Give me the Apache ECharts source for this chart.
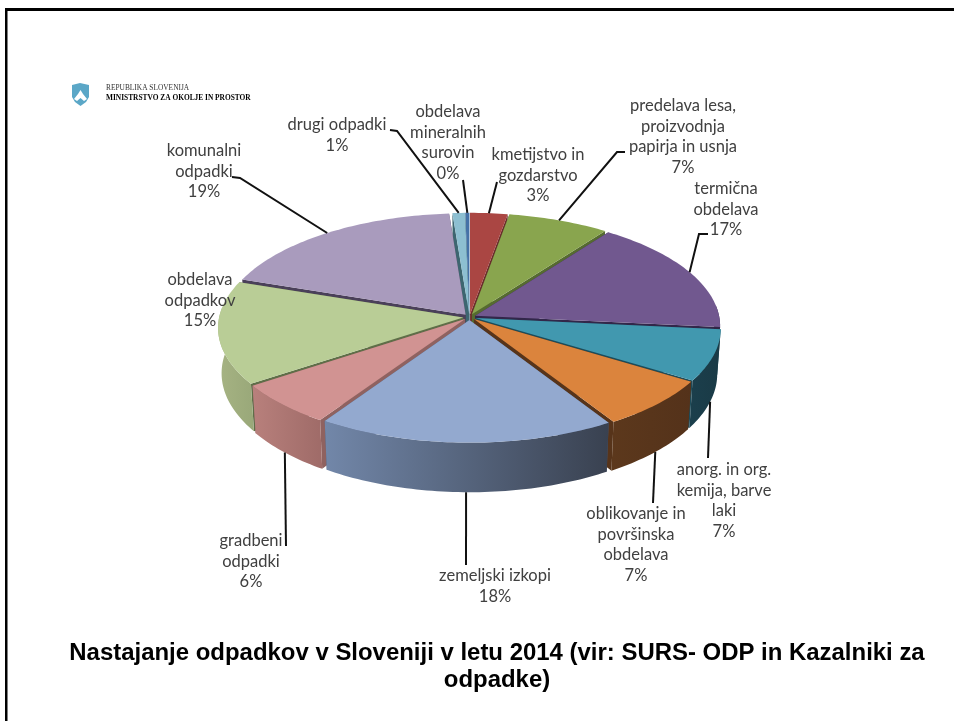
<!DOCTYPE html>
<html>
<head>
<meta charset="utf-8">
<style>
  html, body { margin: 0; padding: 0; background: #fff; }
  #chart { width: 954px; height: 721px; }
</style>
<script src="https://cdn.jsdelivr.net/npm/echarts@6/dist/echarts.min.js"></script>
</head>
<body>
<div id="chart"></div>
<script>
// clockwise from 12 o'clock, same order as the picture
const categories = [
  'kmetijstvo in\ngozdarstvo',
  'predelava lesa,\nproizvodnja\npapirja in usnja',
  'termična\nobdelava',
  'anorg. in org.\nkemija, barve\nlaki',
  'oblikovanje in\npovršinska\nobdelava',
  'zemeljski izkopi',
  'gradbeni\nodpadki',
  'obdelava\nodpadkov',
  'komunalni\nodpadki',
  'drugi odpadki',
  'obdelava\nmineralnih\nsurovin',
]
const shares = [2.7, 7.3, 16.6, 7.4, 7.2, 18.0, 6.2, 14.9, 18.5, 0.9, 0.3]

const topColors = ['#aa4643', '#89a54e', '#71588f', '#4198af', '#db843d', '#93a9cf', '#d19392', '#b9cd96', '#a99bbd', '#8dbfd1', '#4572a7']
const cutColors = ['#6b2c2a', '#566b30', '#32274a', '#1d4c5a', '#57341a', '#4e5a75', '#8f6260', '#5f6e48', '#4a4059', '#3d6670', '#2a4566']
const wallColors = [
  ['#7a3230', '#6b2c2a'], ['#5c6f34', '#566b30'], ['#2e2440', '#32274a'], ['#1b3f4c', '#1a3a46'],
  ['#5c381c', '#54321a'], ['#7287a9', '#394150'], ['#b8807c', '#9f6b68'], ['#a6b383', '#99a879'],
  ['#7a6f89', '#6e647c'], ['#5f8491', '#5f8491'], ['#2a4566', '#2a4566'],
]

// label box centre x, first line y; leader elbow points after the slice anchor
const labelLayout = [
  { x: 538, y: 155, leader: [[497, 182]] },
  { x: 683, y: 106, leader: [[617, 152], [625, 152]] },
  { x: 726, y: 189, leader: [[699, 234], [708, 234]] },
  { x: 724, y: 470, leader: [[708, 458]] },
  { x: 636, y: 514, leader: [[653, 503]] },
  { x: 495, y: 576, leader: [[466, 565]] },
  { x: 251, y: 541, leader: [[286, 546]] },
  { x: 200, y: 280, leader: null },
  { x: 204, y: 151, leader: [[240, 178], [232, 177]] },
  { x: 337, y: 125, leader: [[397, 131], [390, 130]] },
  { x: 448, y: 112, leader: [[463, 180]] },
]

const pie = { cx: 469.5, cy: 317, rx: 244, ry: 111, k: 0.0909, depth: 45, shrink: 0.986, explode: 0.026 }
const lineH = 20.4

function project(u, v, low) {
  const w = 1 / (1 + pie.k * v)
  const s = low ? pie.shrink : 1
  return [pie.cx + pie.rx * u * w * s, pie.cy - pie.ry * v * w + (low ? pie.depth * w : 0)]
}

const total = shares.reduce((a, b) => a + b, 0)
const slices = []
let acc = 0
shares.forEach((s) => {
  const a0 = acc / total * Math.PI * 2
  acc += s
  const a1 = acc / total * Math.PI * 2
  const mid = (a0 + a1) / 2
  slices.push({ a0, a1, mid, ex: Math.sin(mid) * pie.explode, ey: Math.cos(mid) * pie.explode })
})
// paint from the back of the pie to the front
const paintRank = slices.map((s, i) => i).sort((a, b) => Math.cos(slices[b].mid) - Math.cos(slices[a].mid))

function arcPoints(s, low, onlyFront) {
  const pts = []
  const n = Math.max(2, Math.ceil((s.a1 - s.a0) / 0.02))
  for (let i = 0; i <= n; i++) {
    const a = s.a0 + (s.a1 - s.a0) * i / n
    if (onlyFront && Math.cos(a) > 0.1) continue
    pts.push(project(Math.sin(a) + s.ex, Math.cos(a) + s.ey, low))
  }
  return pts
}

function renderSlice(params, api) {
  const i = api.value(0)
  const s = slices[i]
  const z = paintRank.indexOf(i) * 10 + 10
  const apexTop = project(s.ex, s.ey, false)
  const apexLow = project(s.ex, s.ey, true)
  const children = []

  const cutFace = (a) => {
    const u = Math.sin(a) + s.ex
    const v = Math.cos(a) + s.ey
    children.push({
      type: 'polygon',
      z2: z,
      shape: { points: [apexTop, project(u, v, false), project(u, v, true), apexLow] },
      style: { fill: cutColors[i] },
    })
  }
  cutFace(s.a0)
  cutFace(s.a1)

  const wallTop = arcPoints(s, false, true)
  if (wallTop.length > 1) {
    const wallLow = arcPoints(s, true, true)
    children.push({
      type: 'polygon',
      z2: z + 1,
      shape: { points: wallTop.concat(wallLow.reverse()) },
      style: {
        fill: new echarts.graphic.LinearGradient(0, 0, 1, 0, [
          { offset: 0, color: wallColors[i][0] },
          { offset: 1, color: wallColors[i][1] },
        ]),
      },
    })
  }

  children.push({
    type: 'polygon',
    z2: z + 2,
    shape: { points: [apexTop].concat(arcPoints(s, false, false)) },
    style: { fill: topColors[i] },
  })

  // leader line starts on the visible rim at the middle of the slice
  const lay = labelLayout[i]
  if (lay.leader) {
    const front = Math.cos(s.mid) < 0
    const start = project(Math.sin(s.mid) + s.ex, Math.cos(s.mid) + s.ey, front)
    children.push({
      type: 'polyline',
      z2: 200,
      shape: { points: [start].concat(lay.leader) },
      style: { stroke: '#111', lineWidth: 2, fill: null },
    })
  }

  const lines = categories[i].split('\n').concat(Math.round(api.value(1)) + '%')
  lines.forEach((t, n) => {
    children.push({
      type: 'text',
      z2: 210,
      style: {
        text: t,
        x: lay.x,
        y: lay.y + n * lineH,
        align: 'center',
        verticalAlign: 'middle',
        fill: '#404040',
        font: '16.5px Lato',
      },
    })
  })

  return { type: 'group', children }
}

const chart = echarts.init(document.getElementById('chart'), null, { renderer: 'canvas' })
chart.setOption({
  animation: false,
  backgroundColor: '#fff',
  title: {
    text: 'Nastajanje odpadkov v Sloveniji v letu 2014 (vir: SURS- ODP in Kazalniki za\nodpadke)',
    left: 492,
    top: 635,
    textAlign: 'center',
    textStyle: { fontFamily: 'Liberation Sans', fontSize: 23.95, fontWeight: 'bold', color: '#000', lineHeight: 27 },
  },
  series: [{
    type: 'custom',
    coordinateSystem: 'none',
    silent: true,
    data: shares.map((v, i) => [i, v]),
    encode: { value: 1 },
    renderItem: renderSlice,
  }],
  graphic: [
    { type: 'rect', shape: { x: 5, y: 8, width: 949, height: 3 }, style: { fill: '#000' } },
    { type: 'rect', shape: { x: 5, y: 8, width: 2.5, height: 713 }, style: { fill: '#000' } },
    { type: 'polygon', shape: { points: [[72, 85], [80, 83], [89, 85], [89, 97], [86, 102], [80.5, 106], [75, 102], [72, 97]] }, style: { fill: '#5ba7c7' } },
    { type: 'polygon', shape: { points: [[74, 99], [78, 94], [80.5, 90], [83, 94], [87, 99], [84, 101], [80.5, 98], [77, 101]] }, style: { fill: '#ffffff' } },
    { type: 'text', style: { text: 'REPUBLIKA SLOVENIJA', x: 106, y: 88, verticalAlign: 'middle', fill: '#333', font: '7.4px Liberation Serif' } },
    { type: 'text', style: { text: 'MINISTRSTVO ZA OKOLJE IN PROSTOR', x: 106, y: 98.5, verticalAlign: 'middle', fill: '#000', font: 'bold 7.4px Liberation Serif' } },
  ],
})
</script>
</body>
</html>
